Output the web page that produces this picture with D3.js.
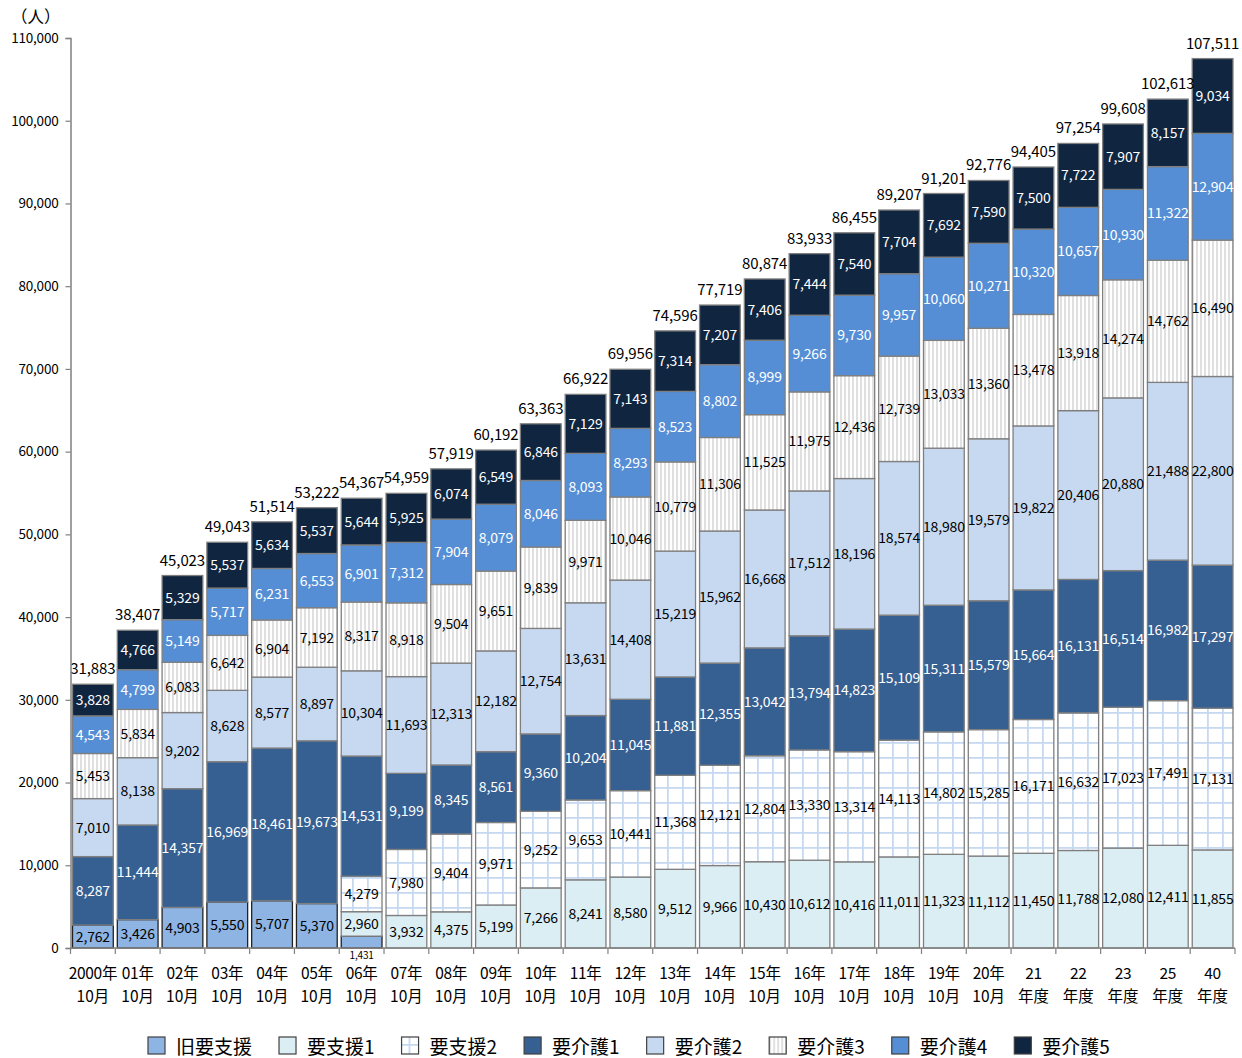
<!DOCTYPE html>
<html>
<head>
<meta charset="utf-8">
<script src="https://cdn.jsdelivr.net/npm/d3@7"></script>
<style>
  body { margin: 0; background: #fff; }
  svg { display: block; font-family: "Noto Sans CJK JP", "Noto Sans", sans-serif; }
</style>
</head>
<body>
<svg width="1242" height="1058"></svg>
<script>
// categories (two-line x labels)
const catTop = ['2000年', '01年', '02年', '03年', '04年', '05年', '06年', '07年', '08年', '09年',
  '10年', '11年', '12年', '13年', '14年', '15年', '16年', '17年', '18年', '19年', '20年',
  '21', '22', '23', '25', '40']
const catBottom = ['10月', '10月', '10月', '10月', '10月', '10月', '10月', '10月', '10月', '10月',
  '10月', '10月', '10月', '10月', '10月', '10月', '10月', '10月', '10月', '10月', '10月',
  '年度', '年度', '年度', '年度', '年度']

// series values (人)
const kyuYoshien = [2762, 3426, 4903, 5550, 5707, 5370, 1431, 0, 0, 0, 0, 0, 0, 0, 0, 0, 0, 0, 0, 0, 0, 0, 0, 0, 0, 0]
const yoshien1 = [0, 0, 0, 0, 0, 0, 2960, 3932, 4375, 5199, 7266, 8241, 8580, 9512, 9966, 10430, 10612, 10416, 11011, 11323, 11112, 11450, 11788, 12080, 12411, 11855]
const yoshien2 = [0, 0, 0, 0, 0, 0, 4279, 7980, 9404, 9971, 9252, 9653, 10441, 11368, 12121, 12804, 13330, 13314, 14113, 14802, 15285, 16171, 16632, 17023, 17491, 17131]
const kaigo1 = [8287, 11444, 14357, 16969, 18461, 19673, 14531, 9199, 8345, 8561, 9360, 10204, 11045, 11881, 12355, 13042, 13794, 14823, 15109, 15311, 15579, 15664, 16131, 16514, 16982, 17297]
const kaigo2 = [7010, 8138, 9202, 8628, 8577, 8897, 10304, 11693, 12313, 12182, 12754, 13631, 14408, 15219, 15962, 16668, 17512, 18196, 18574, 18980, 19579, 19822, 20406, 20880, 21488, 22800]
const kaigo3 = [5453, 5834, 6083, 6642, 6904, 7192, 8317, 8918, 9504, 9651, 9839, 9971, 10046, 10779, 11306, 11525, 11975, 12436, 12739, 13033, 13360, 13478, 13918, 14274, 14762, 16490]
const kaigo4 = [4543, 4799, 5149, 5717, 6231, 6553, 6901, 7312, 7904, 8079, 8046, 8093, 8293, 8523, 8802, 8999, 9266, 9730, 9957, 10060, 10271, 10320, 10657, 10930, 11322, 12904]
const kaigo5 = [3828, 4766, 5329, 5537, 5634, 5537, 5644, 5925, 6074, 6549, 6846, 7129, 7143, 7314, 7207, 7406, 7444, 7540, 7704, 7692, 7590, 7500, 7722, 7907, 8157, 9034]

const seriesNames = ['旧要支援', '要支援1', '要支援2', '要介護1', '要介護2', '要介護3', '要介護4', '要介護5']
const seriesValues = [kyuYoshien, yoshien1, yoshien2, kaigo1, kaigo2, kaigo3, kaigo4, kaigo5]
const yTicks = d3.range(0, 110001, 10000)

// styles per series
const fills = ['#8eb4e3', '#dbeef4', 'url(#grid)', '#376092', '#c6d9f1', 'url(#stripes)', '#558ed5', '#10253f']
const strokes = ['#222', '#7f7f7f', '#7f7f7f', '#7f7f7f', '#7f7f7f', '#7f7f7f', '#7f7f7f', '#7f7f7f']
const textColors = ['#000', '#000', '#000', '#fff', '#000', '#000', '#fff', '#fff']

const rows = catTop.map((c, i) => {
  const row = { cat: i }
  seriesNames.forEach((s, j) => { row[s] = seriesValues[j][i] })
  return row
})

const svg = d3.select('svg')

// patterns
const defs = svg.append('defs')
const grid = defs.append('pattern').attr('id', 'grid')
  .attr('patternUnits', 'userSpaceOnUse').attr('width', 15).attr('height', 15)
grid.append('rect').attr('width', 15).attr('height', 15).attr('fill', '#fff')
grid.append('rect').attr('x', 7).attr('width', 1.8).attr('height', 15).attr('fill', '#c6d9f1')
grid.append('rect').attr('y', 7).attr('width', 15).attr('height', 1.8).attr('fill', '#c6d9f1')
const stripes = defs.append('pattern').attr('id', 'stripes')
  .attr('patternUnits', 'userSpaceOnUse').attr('width', 4).attr('height', 4)
stripes.append('rect').attr('width', 4).attr('height', 4).attr('fill', '#fff')
stripes.append('rect').attr('width', 2).attr('height', 4).attr('fill', '#e0e0e0')

const x = d3.scaleBand()
  .domain(d3.range(catTop.length))
  .range([70.5, 1235])
  .paddingInner(0.09)
  .paddingOuter(0.045)
const y = d3.scaleLinear().domain([0, 110000]).range([948, 38])

const stack = d3.stack().keys(seriesNames)
const layers = stack(rows)

// bars
const layer = svg.append('g').selectAll('g')
  .data(layers)
  .join('g')
  .attr('fill', (d, i) => fills[i])
  .attr('stroke', (d, i) => strokes[i])
  .attr('stroke-width', 1.3)

layer.selectAll('rect')
  .data(d => d.filter(p => p[1] - p[0] > 0))
  .join('rect')
  .attr('x', d => x(d.data.cat))
  .attr('y', d => y(d[1]))
  .attr('width', x.bandwidth())
  .attr('height', d => y(d[0]) - y(d[1]))

// segment labels (too-thin segments get their label under the axis)
const fmt = d3.format(',')
const thin = d => y(d[0]) - y(d[1]) < 14
layers.forEach((ly, i) => {
  const pts = ly.filter(p => p[1] - p[0] > 0)
  svg.append('g')
    .selectAll('text')
    .data(pts)
    .join('text')
    .attr('x', d => x(d.data.cat) + x.bandwidth() / 2)
    .attr('y', d => thin(d) ? y(0) + 7 : (y(d[0]) + y(d[1])) / 2)
    .attr('dy', '0.36em')
    .attr('text-anchor', 'middle')
    .attr('font-size', d => thin(d) ? 10 : 14)
    .attr('letter-spacing', '-0.15')
    .attr('fill', d => thin(d) ? '#000' : textColors[i])
    .text(d => fmt(d[1] - d[0]))
})

// totals
const topLayer = layers[layers.length - 1]
svg.append('g')
  .selectAll('text')
  .data(topLayer)
  .join('text')
  .attr('x', d => x(d.data.cat) + x.bandwidth() / 2)
  .attr('y', d => y(d[1]) - 10)
  .attr('text-anchor', 'middle')
  .attr('font-size', 15)
  .attr('letter-spacing', '-0.1')
  .attr('fill', '#000')
  .text(d => fmt(d[1]))

// y axis
const yAxis = svg.append('g')
  .attr('transform', 'translate(70.5,0)')
  .call(d3.axisLeft(y).tickValues(yTicks).tickFormat(fmt).tickSize(5).tickPadding(7))
yAxis.select('.domain').attr('stroke', '#808080').attr('stroke-width', 1.5)
yAxis.selectAll('.tick line').attr('stroke', '#808080').attr('stroke-width', 1.2)
yAxis.selectAll('.tick text')
  .attr('font-size', 13.5).attr('fill', '#000')
  .attr('font-family', '"Noto Sans CJK JP", sans-serif')
  .attr('letter-spacing', '-0.2')

svg.append('text')
  .attr('x', 11).attr('y', 23)
  .attr('font-size', 16.5)
  .text('（人）')

// x axis
const xr = x.range()
svg.append('line')
  .attr('x1', xr[0]).attr('x2', xr[1])
  .attr('y1', y(0)).attr('y2', y(0))
  .attr('stroke', '#808080').attr('stroke-width', 1.5)
svg.append('g')
  .selectAll('line')
  .data(d3.range(catTop.length + 1))
  .join('line')
  .attr('x1', i => xr[0] + i * x.step())
  .attr('x2', i => xr[0] + i * x.step())
  .attr('y1', y(0)).attr('y2', y(0) + 6)
  .attr('stroke', '#808080').attr('stroke-width', 1.2)

const xl = svg.append('g')
  .selectAll('g')
  .data(d3.range(catTop.length))
  .join('g')
  .attr('transform', i => `translate(${x(i) + x.bandwidth() / 2},0)`)
  .attr('font-size', 15.5)
  .attr('text-anchor', 'middle')
xl.append('text').attr('y', 979).attr('letter-spacing', '-0.3').text(i => catTop[i])
xl.append('text').attr('y', 1002).text(i => catBottom[i])

// legend
const legend = svg.append('g').attr('transform', 'translate(148,1037)')
let lx = 0
seriesNames.forEach((name, i) => {
  const item = legend.append('g').attr('transform', `translate(${lx},0)`)
  item.append('rect')
    .attr('width', 17).attr('height', 17)
    .attr('fill', fills[i])
    .attr('stroke', '#404040').attr('stroke-width', 1.2)
  const t = item.append('text')
    .attr('x', 28).attr('y', 16.5)
    .attr('font-size', 19)
    .text(name)
  lx += 28 + t.node().getComputedTextLength() + 27
})
</script>
</body>
</html>
